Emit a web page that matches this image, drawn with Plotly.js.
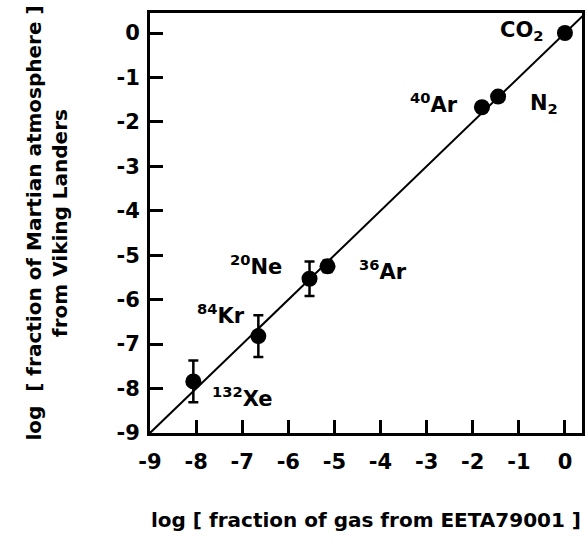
<!DOCTYPE html>
<html>
<head>
<meta charset="utf-8">
<script src="https://cdn.plot.ly/plotly-3.0.1.min.js"></script>
<style>
  html, body { margin: 0; padding: 0; background: #ffffff; }
  #chart { width: 587px; height: 546px; }
</style>
</head>
<body>
<div id="chart"></div>
<script>
// ---- data (log fractions) ----
const gases        = ['CO2', 'N2', '40Ar', '36Ar', '20Ne', '84Kr', '132Xe'];
const meteoriteLog = [0.00, -1.45, -1.80, -5.15, -5.54, -6.65, -8.06];   // x: EETA79001
const vikingLog    = [0.00, -1.43, -1.67, -5.25, -5.53, -6.82, -7.84];   // y: Viking Landers
const vikingErr    = [0.00, 0.00, 0.00, 0.13, 0.39, 0.47, 0.47];
const oneToOneLine = [-9, 0.4];
const tickValues   = [-9, -8, -7, -6, -5, -4, -3, -2, -1, 0];
const tickLabels   = ['-9', '-8', '-7', '-6', '-5', '-4', '-3', '-2', '-1', '0'];
const labelText    = ['CO<sub>2</sub>', 'N<sub>2</sub>', '<sup>40</sup>Ar', '<sup>36</sup>Ar',
                      '<sup>20</sup>Ne', '<sup>84</sup>Kr', '<sup>132</sup>Xe'];
const labelX       = [-1.45, -0.80, -3.40, -4.50, -7.30, -8.02, -7.70];
const labelY       = [0.05, -1.59, -1.57, -5.33, -5.21, -6.33, -8.18];

const X_RANGE = [-9, 0.37];
const Y_RANGE = [-9, 0.45];
const FONT = 'DejaVu Sans, Liberation Sans, Arial, sans-serif';

const traces = [
  {
    x: oneToOneLine, y: oneToOneLine,
    type: 'scatter', mode: 'lines',
    line: { color: '#000', width: 2 },
    hoverinfo: 'skip', showlegend: false
  },
  {
    x: meteoriteLog, y: vikingLog, text: gases,
    type: 'scatter', mode: 'markers',
    marker: { color: '#000', size: 16 },
    error_y: { type: 'data', array: vikingErr, visible: true, color: '#000', thickness: 2.5, width: 5 },
    hoverinfo: 'text', showlegend: false
  }
];

const annotations = labelText.map((t, i) => ({
  x: labelX[i], y: labelY[i], xref: 'x', yref: 'y',
  text: t, showarrow: false, xanchor: 'left', yanchor: 'middle',
  font: { family: FONT, size: 21, color: '#000', weight: 'bold' }
}));

const axisCommon = {
  tickmode: 'array', tickvals: tickValues, ticktext: tickLabels,
  ticks: 'inside', ticklen: 13, tickwidth: 3, tickcolor: 'black',
  showline: true, linewidth: 3, linecolor: 'black', mirror: true,
  showgrid: false, zeroline: false,
  tickfont: { family: FONT, size: 21, color: '#000', weight: 'bold' }
};

const layout = {
  width: 587, height: 546,
  margin: { l: 150, r: 5, t: 13, b: 113 },
  paper_bgcolor: '#fff', plot_bgcolor: '#fff',
  showlegend: false,
  xaxis: Object.assign({}, axisCommon, {
    range: X_RANGE,
    ticklabelstandoff: 8,
    title: { text: 'log [ fraction of gas from EETA79001 ]', standoff: 40,
             font: { family: FONT, size: 20, color: '#000', weight: 'bold' } }
  }),
  yaxis: Object.assign({}, axisCommon, {
    range: Y_RANGE,
    ticklabelstandoff: 3,
    title: { text: 'log  [ fraction of Martian atmosphere ]<br>from Viking Landers', standoff: 44,
             font: { family: FONT, size: 20, color: '#000', weight: 'bold' } }
  }),
  annotations: annotations
};

Plotly.newPlot('chart', traces, layout, { displayModeBar: false });
</script>
</body>
</html>
